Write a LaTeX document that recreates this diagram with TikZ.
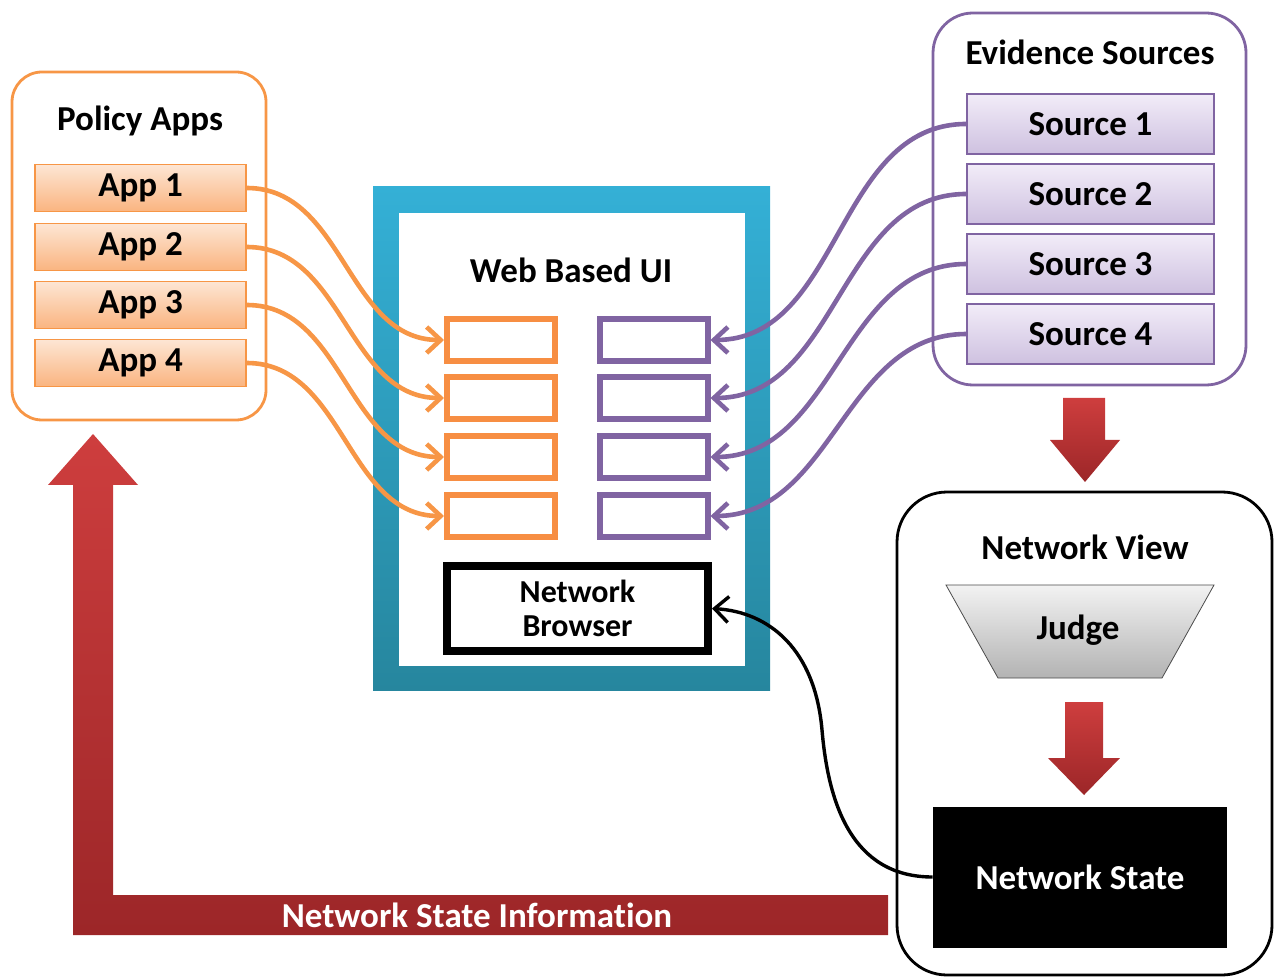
\documentclass[tikz,border=0pt]{standalone}
\usepackage{fontspec}
\setmainfont{Carlito}[Ligatures=NoCommon]
\usepackage{xcolor}
\usetikzlibrary{positioning,arrows.meta,calc}
\definecolor{appclr}{RGB}{247,150,70}
\definecolor{apptop}{RGB}{253,230,212}
\definecolor{appbot}{RGB}{250,180,128}
\definecolor{srcclr}{RGB}{128,100,162}
\definecolor{srctop}{RGB}{242,236,248}
\definecolor{srcbot}{RGB}{206,193,224}
\definecolor{uitop}{RGB}{52,176,214}
\definecolor{uibot}{RGB}{38,134,158}
\definecolor{redtop}{RGB}{206,62,62}
\definecolor{redbot}{RGB}{156,38,40}
\newcommand{\lbl}{\bfseries\fontsize{17.5}{19}\selectfont}
\tikzset{
    grp/.style={line width=1.4pt,fill=white},
    title/.style={font=\lbl},
    appbox/.style={rectangle,draw=appclr,line width=0.8pt,
                   top color=apptop,bottom color=appbot,
                   minimum width=105.5pt,minimum height=23.5pt,
                   inner sep=0pt,font=\lbl},
    srcbox/.style={appbox,draw=srcclr,top color=srctop,bottom color=srcbot,
                   minimum width=123.5pt,minimum height=30pt},
    slot/.style={rectangle,line width=3pt,fill=white,
                 minimum width=54pt,minimum height=21pt,inner sep=0pt},
    aslot/.style={slot,draw=appclr!95!red},
    sslot/.style={slot,draw=srcclr},
    feed/.style={line width=2.3pt,-{Straight Barb[length=7pt,width=13pt]}},
    blockarrow/.style={top color=redtop,bottom color=redbot},
}

\begin{document}
\begin{tikzpicture}[x=0.5pt,y=-0.5pt]
\useasboundingbox (0,0) rectangle (1277,977);

% feedback arrow running back to the apps
\shade[blockarrow] (48,485) -- (93,434) -- (138,485) -- (113,485) -- (113,895)
   -- (888,895) -- (888,935) -- (73,935) -- (73,485) -- cycle;
\node[font=\lbl,text=white] (info) at (477,915) {Network State Information};

% groups
\draw[grp,draw=appclr,rounded corners=15pt] (12,72) rectangle (266,420);
\draw[grp,draw=srcclr,rounded corners=20pt] (933,13) rectangle (1246,385);
\draw[grp,draw=black,rounded corners=25pt] (897,492) rectangle (1272,975);

% web ui frame
\shade[top color=uitop,bottom color=uibot] (373,187) rectangle (770,690);
\fill[white] (399,213) rectangle (745,666);

\node[title] (pt) at (140,121) {Policy Apps};
\node[title] (et) at (1090,52) {Evidence Sources};
\node[title] (ut) at (571,270) {Web Based UI};
\node[title] (vt) at (1085,547) {Network View};

\foreach \i/\y in {1/188,2/247,3/305,4/363}
    \node[appbox] (app\i) at (140.5,\y) {App \i};
\foreach \i/\y in {1/124,2/194,3/264,4/334}
    \node[srcbox] (src\i) at (1090.5,\y) {Source \i};
\foreach \i/\y in {1/340,2/398,3/457,4/516} {
    \node[aslot] (as\i) at (501,\y) {};
    \node[sslot] (ss\i) at (653.5,\y) {};
}

\node[rectangle,draw,line width=4pt,fill=white,minimum width=130.5pt,
      minimum height=42.5pt,inner sep=0pt,align=center,
      font=\bfseries\fontsize{16}{17}\selectfont] (nb) at (577.5,608.5)
      {Network\\Browser};

% judge and state
\shade[draw=black!70,top color=black!5,bottom color=black!30]
   (946,585) -- (1214,585) -- (1162,678) -- (998,678) -- cycle;
\node[font=\lbl] (judge) at (1078,630) {Judge};
\node[rectangle,fill=black,text=white,font=\lbl,minimum width=147pt,
      minimum height=70.5pt] (ns) at (1080,877) {Network State};

\shade[blockarrow] (1063,398) -- (1105,398) -- (1105,440) -- (1120,440)
   -- (1085,482) -- (1050,440) -- (1063,440) -- cycle;
\shade[blockarrow] (1065,702) -- (1103,702) -- (1103,758) -- (1120,758)
   -- (1084,795) -- (1048,758) -- (1065,758) -- cycle;

% connectors
\foreach \i in {1,...,4} {
    \draw[feed,draw=appclr] (app\i.east) to[out=0,in=180] (as\i.west);
    \draw[feed,draw=srcclr] (src\i.west) to[out=180,in=0] (ss\i.east);
}
\draw[line width=1.7pt,-{Straight Barb[length=7pt,width=13pt]}] (ns.west)
   .. controls (850,877) and (828,800) .. (822,730)
   .. controls (815,650) and (770,612) .. (nb.east);
\end{tikzpicture}
\end{document}
